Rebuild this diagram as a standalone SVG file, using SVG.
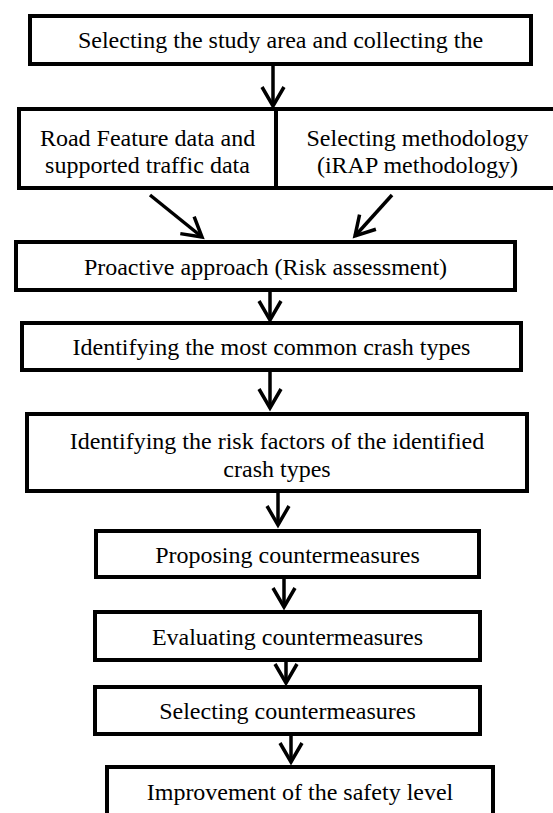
<svg xmlns="http://www.w3.org/2000/svg" width="553" height="813" viewBox="0 0 553 813">
  <style>
    .box { fill: #ffffff; stroke: #000000; stroke-width: 4; }
    .lbl { font-family: "Liberation Serif", "Times New Roman", serif; font-size: 24px; fill: #000000; text-anchor: middle; }
    .conn { stroke: #000000; stroke-width: 3.5; fill: none; }
  </style>
  <defs>
    <marker id="arr" markerUnits="userSpaceOnUse" viewBox="-24 -14 28 28" refX="0" refY="0" markerWidth="28" markerHeight="28" orient="auto" overflow="visible">
      <path d="M -19 -11 L 0 0 L -19 11" fill="none" stroke="#000000" stroke-width="3.5" stroke-linejoin="miter"/>
    </marker>
  </defs>
  <rect x="0" y="0" width="553" height="813" fill="#ffffff"/>

  <g id="n1">
    <rect class="box" x="30" y="16" width="501" height="48"/>
    <text class="lbl" x="280.5" y="48">Selecting the study area and collecting the</text>
  </g>

  <g id="n2">
    <rect class="box" x="19" y="109" width="540" height="79"/>
    <line x1="276" y1="109" x2="276" y2="188" stroke="#000000" stroke-width="4"/>
    <text class="lbl" x="147.5" y="146">Road Feature data and</text>
    <text class="lbl" x="147.5" y="173">supported traffic data</text>
  </g>

  <g id="n3">
    <text class="lbl" x="417.5" y="146">Selecting methodology</text>
    <text class="lbl" x="417.5" y="173">(iRAP methodology)</text>
  </g>

  <g id="n4">
    <rect class="box" x="16" y="242" width="499" height="48"/>
    <text class="lbl" x="265.5" y="275">Proactive approach (Risk assessment)</text>
  </g>

  <g id="n5">
    <rect class="box" x="22" y="323" width="499" height="47"/>
    <text class="lbl" x="271.5" y="355">Identifying the most common crash types</text>
  </g>

  <g id="n6">
    <rect class="box" x="27" y="414" width="500" height="77"/>
    <text class="lbl" x="277" y="449">Identifying the risk factors of the identified</text>
    <text class="lbl" x="277" y="477">crash types</text>
  </g>

  <g id="n7">
    <rect class="box" x="96" y="531" width="383" height="46"/>
    <text class="lbl" x="287.5" y="563">Proposing countermeasures</text>
  </g>

  <g id="n8">
    <rect class="box" x="95" y="612" width="385" height="48"/>
    <text class="lbl" x="287.5" y="645">Evaluating countermeasures</text>
  </g>

  <g id="n9">
    <rect class="box" x="95" y="687" width="385" height="47"/>
    <text class="lbl" x="287.5" y="719">Selecting countermeasures</text>
  </g>

  <g id="n10">
    <rect class="box" x="107" y="767" width="386" height="60"/>
    <text class="lbl" x="300" y="800">Improvement of the safety level</text>
  </g>

  <g id="connectors">
    <line class="conn" x1="273" y1="66" x2="273" y2="106" marker-end="url(#arr)"/>
    <line class="conn" x1="150" y1="195" x2="202" y2="237" marker-end="url(#arr)"/>
    <line class="conn" x1="392" y1="195" x2="355" y2="236" marker-end="url(#arr)"/>
    <line class="conn" x1="270" y1="292" x2="270" y2="320" marker-end="url(#arr)"/>
    <line class="conn" x1="270" y1="372" x2="270" y2="408" marker-end="url(#arr)"/>
    <line class="conn" x1="278" y1="493" x2="278" y2="525" marker-end="url(#arr)"/>
    <line class="conn" x1="284" y1="579" x2="284" y2="607" marker-end="url(#arr)"/>
    <line class="conn" x1="286" y1="662" x2="286" y2="683" marker-end="url(#arr)"/>
    <line class="conn" x1="291" y1="736" x2="291" y2="762" marker-end="url(#arr)"/>
  </g>
</svg>
